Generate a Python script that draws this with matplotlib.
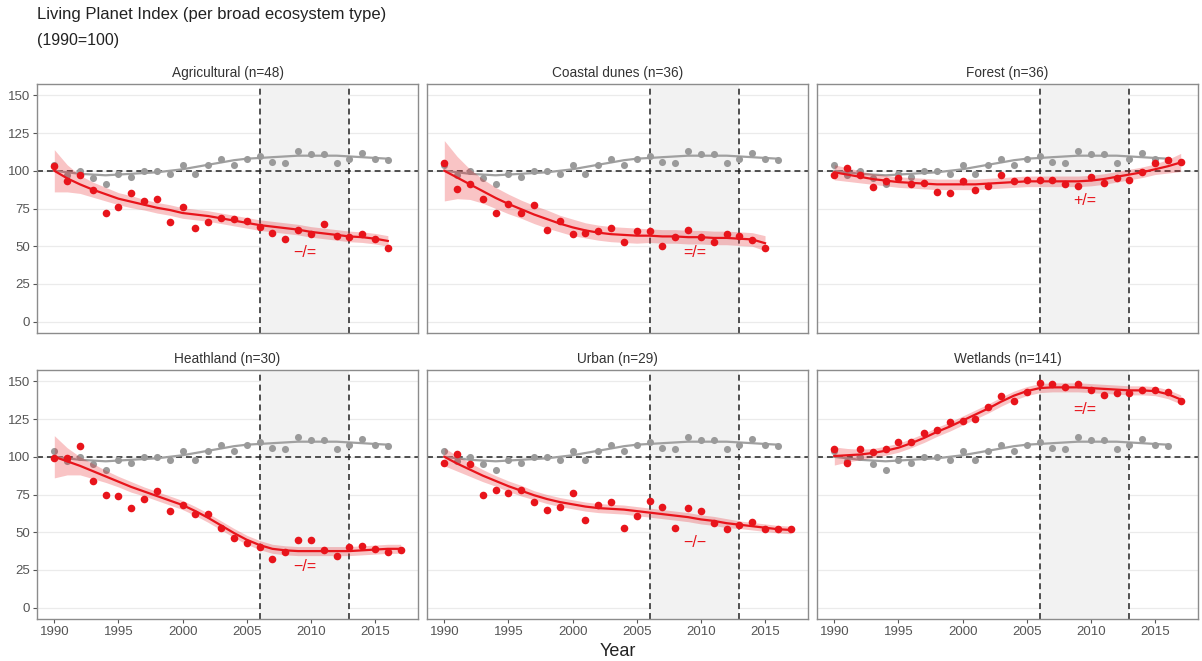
import numpy as np
import matplotlib
matplotlib.use('Agg')
import matplotlib.pyplot as plt

plt.rcParams['font.family'] = ['Liberation Sans', 'DejaVu Sans']

years = np.arange(1990, 2018)

# overall index (grey), same in every panel
total_pts = [104, 97, 100, 95, 91, 98, 96, 100, 100, 98, 104, 98, 104, 108, 104,
             108, 110, 106, 105, 113, 111, 111, 105, 108, 112, 108, 107]
total_trend = [100, 99, 98, 97.5, 97, 97.5, 98, 98.5, 99, 100, 101, 102.5, 104, 105.5,
               107, 108, 108.5, 109, 109.5, 110, 110, 110, 110, 109.5, 109, 108.5, 108]

panels = ['Agricultural (n=48)', 'Coastal dunes (n=36)', 'Forest (n=36)',
          'Heathland (n=30)', 'Urban (n=29)', 'Wetlands (n=141)']

agri_pts = [103, 93, 97, 87, 72, 76, 85, 80, 81, 66, 76, 62, 66, 69, 68, 67, 63, 59,
            55, 61, 58, 65, 57, 56, 58, 55, 49]
agri_trend = [100, 95, 91, 87.5, 84.5, 81.5, 79.5, 77.5, 75.5, 74, 72, 71, 70, 68.5,
              67, 65.5, 64, 63, 62, 61, 59.5, 58.5, 57.5, 56.5, 56, 55, 53.5]
agri_se = [14, 9, 6, 5, 4.5, 4, 4, 3.5, 3.5, 3.5, 3.5, 3.5, 3.5, 3.5, 3.5, 3.5, 3.5,
           3.5, 3.5, 3.5, 3.5, 3.5, 3.5, 3.5, 3.5, 3.5, 3.5]

coast_pts = [105, 88, 91, 81, 72, 78, 72, 77, 61, 67, 58, 59, 60, 62, 53, 60, 60, 50,
             56, 61, 56, 53, 58, 57, 54, 49]
coast_trend = [100, 95.5, 91, 86.5, 82, 78, 74.5, 71, 68, 65, 62.5, 60.5, 59, 58, 57.5,
               57, 57, 56.5, 56.5, 56, 56, 55.5, 55.5, 55, 54.5, 52]
coast_se = [20, 14, 10, 8, 7, 6.5, 6, 6, 6, 5.5, 5.5, 5, 5, 5, 5, 5, 4.5, 4.5, 4.5,
            4.5, 4.5, 4.5, 4.5, 4.5, 4.5, 5]

forest_pts = [97, 102, 97, 89, 93, 95, 91, 92, 86, 85, 93, 87, 90, 97, 93, 94, 94, 94,
              91, 90, 96, 92, 95, 94, 99, 105, 107, 106]
forest_trend = [99, 97.5, 96, 94.5, 93.5, 92.5, 92, 91.5, 91, 91, 91, 91, 91.5, 92,
                92.5, 93, 93, 93, 93, 93, 93.5, 94.5, 96, 97.5, 99, 101, 103, 105.5]
forest_se = [5, 4.5, 4, 3.5, 3.5, 3.5, 3.5, 3.5, 3.5, 3.5, 3.5, 3.5, 3.5, 3.5, 3.5,
             3.5, 3.5, 3.5, 3.5, 3.5, 3.5, 3.5, 3.5, 3.5, 3.5, 3.5, 4.5, 6]

heath_pts = [99, 99, 107, 84, 75, 74, 66, 72, 77, 64, 68, 62, 62, 53, 46, 43, 40, 32,
             37, 45, 45, 38, 34, 40, 41, 39, 37, 38]
heath_trend = [100, 97, 94, 90.5, 87, 83.5, 80, 77, 74, 71, 68, 64, 59.5, 54.5, 49.5,
               45, 41.5, 39, 38, 37.5, 37.5, 37.5, 37.5, 37.5, 38, 38.5, 39, 39]
heath_se = [14, 9, 6, 5, 4, 3.5, 3.5, 3, 3, 3, 3, 3, 3, 3, 3, 3, 3, 3, 3, 3, 3, 3, 3,
            3, 3, 3, 3, 3]

urban_pts = [96, 102, 95, 75, 78, 76, 78, 70, 65, 67, 76, 58, 68, 70, 53, 61, 71, 67,
             53, 66, 64, 56, 52, 55, 57, 52, 52, 52]
urban_trend = [100, 95.5, 91.5, 87.5, 84, 80.5, 77.5, 74.5, 72, 70, 68.5, 67, 66, 65.5,
               65, 64, 63, 62, 61, 60, 58.5, 57.5, 56, 55, 54, 53, 52, 51.5]
urban_se = [6, 5, 4.5, 4, 3.5, 3.5, 3.5, 3, 3, 3, 3, 3, 3, 3, 3, 3, 3, 3, 3, 3, 3, 3,
            3, 2.5, 2.5, 2.5, 2.5, 2.5]

wet_pts = [105, 96, 105, 103, 105, 110, 110, 116, 118, 123, 124, 125, 133, 140, 137,
           143, 149, 148, 146, 148, 144, 141, 142, 142, 144, 144, 143, 137]
wet_trend = [100.5, 101, 101.5, 102.5, 104, 106, 109, 112.5, 116.5, 120, 124, 128, 132,
             136.5, 140.5, 143.5, 145.5, 146, 146, 146, 145.5, 145, 144.5, 144, 144,
             143.5, 141.5, 138]
wet_se = [6, 4.5, 3.5, 3, 3, 3, 3, 3, 3, 3, 3, 3, 3, 3, 3, 3, 3, 3, 3, 3, 3, 3, 3, 3,
          3, 3, 3, 3]

labels = ['\u2212/=', '=/=', '+/=', '\u2212/=', '\u2212/\u2212', '=/=']
label_y = [46, 46, 80, 27, 43, 131]

series = [(agri_pts, agri_trend, agri_se), (coast_pts, coast_trend, coast_se),
          (forest_pts, forest_trend, forest_se), (heath_pts, heath_trend, heath_se),
          (urban_pts, urban_trend, urban_se), (wet_pts, wet_trend, wet_se)]

red = '#E8141B'
grey = '#A0A0A0'
dash = (0, (3.9, 2.6))

fig = plt.figure(figsize=(12.02, 6.61), dpi=100)

lefts = [37, 427, 817]
tops = [84, 370]
W, H = 1202, 661
pw, ph = 381, 249

for i, name in enumerate(panels):
    r, c = divmod(i, 3)
    ax = fig.add_axes([lefts[c] / W, 1 - (tops[r] + ph) / H, pw / W, ph / H])
    pts, trend, se = series[i]
    trend = np.array(trend)
    se = np.array(se)
    yr = years[:len(pts)]
    yt = years[:len(trend)]

    for gy in range(0, 151, 25):
        ax.axhline(gy, color='#EBEBEB', lw=0.9, zorder=0)
    ax.axvspan(2006, 2013, color='#F2F2F2', zorder=0.5, lw=0)

    ax.axhline(100, color='#222222', lw=1.1, ls=dash, zorder=1)
    ax.axvline(2006, color='#222222', lw=1.1, ls=dash, zorder=1)
    ax.axvline(2013, color='#222222', lw=1.1, ls=dash, zorder=1)

    ax.plot(years[:len(total_trend)], total_trend, color=grey, lw=1.6, zorder=2)
    ax.scatter(years[:len(total_pts)], total_pts, s=26, color='#9A9A9A', lw=0, zorder=3)

    ax.fill_between(yt, trend - se, trend + se, color=red, alpha=0.25, lw=0, zorder=4)
    ax.plot(yt, trend, color=red, lw=1.6, zorder=5)
    ax.scatter(yr, pts, s=30, color=red, lw=0, zorder=6)

    ax.text(2009.5, label_y[i], labels[i], color=red, fontsize=11.5,
            ha='center', va='center', zorder=7)

    ax.set_xlim(1988.65, 2018.35)
    ax.set_ylim(-7.5, 157.5)
    ax.set_xticks([1990, 1995, 2000, 2005, 2010, 2015])
    ax.set_yticks([0, 25, 50, 75, 100, 125, 150])
    ax.tick_params(length=3, color='#555555', labelcolor='#555555', labelsize=9.5, pad=2)
    if c != 0:
        ax.tick_params(axis='y', left=False, labelleft=False)
    if r == 0:
        ax.tick_params(axis='x', bottom=False, labelbottom=False)
    for sp in ax.spines.values():
        sp.set_color('#8C8C8C')
        sp.set_linewidth(1.0)
    ax.set_title(name, fontsize=9.8, color='#333333', pad=5)

fig.text(37 / W, 1 - 15 / H, 'Living Planet Index (per broad ecosystem type)',
         fontsize=12, color='#222222', ha='left', va='center')
fig.text(37 / W, 1 - 40 / H, '(1990=100)', fontsize=11.5, color='#222222',
         ha='left', va='center')
fig.text(618 / W, 1 - 651 / H, 'Year', fontsize=13, color='#222222',
         ha='center', va='center')

fig.savefig('out.png', dpi=100)
